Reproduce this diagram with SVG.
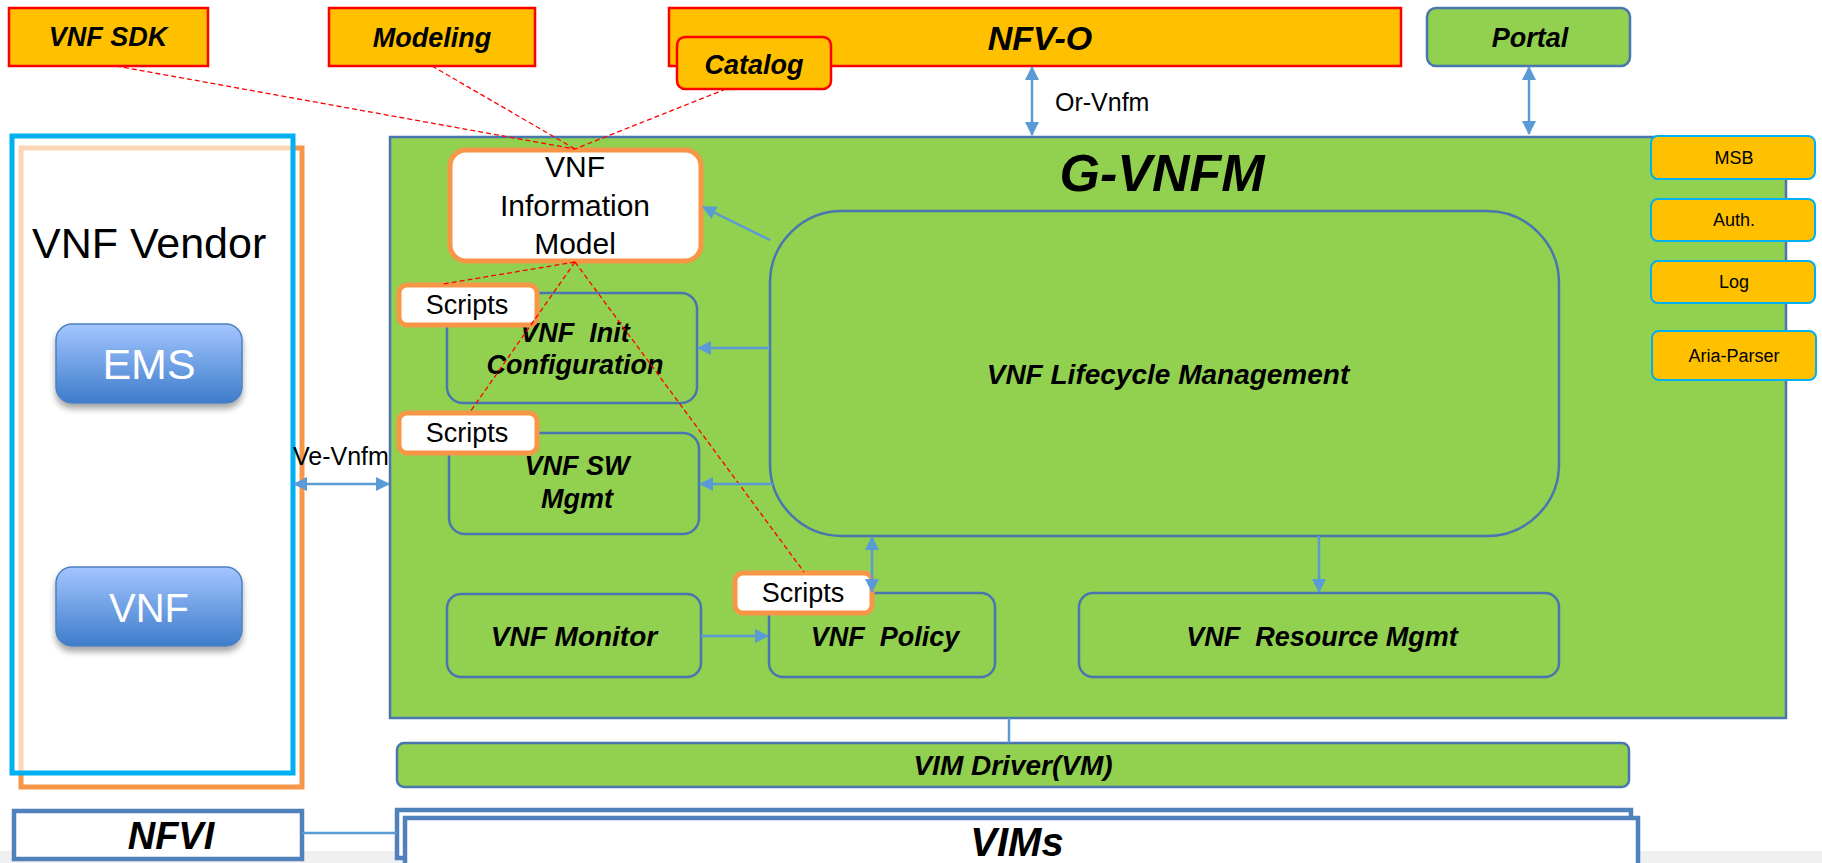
<svg xmlns="http://www.w3.org/2000/svg" width="1822" height="863" viewBox="0 0 1822 863">
<style>
.org{fill:#FFC000;stroke:#FF0000;stroke-width:2.5}
.grn{fill:#92D050;stroke:#4A76B0;stroke-width:2.5}
.sub{fill:none;stroke:#4A76B0;stroke-width:2.5}
.svc{fill:#FFC000;stroke:#00B0F0;stroke-width:2}
.scr{fill:#FFFFFF;stroke:#F79646;stroke-width:5}
.bi{font-family:"Liberation Sans",Arial,sans-serif;font-weight:bold;font-style:italic;fill:#000;text-anchor:middle}
.rg{font-family:"Liberation Sans",Arial,sans-serif;fill:#000;text-anchor:middle}
.wt{font-family:"Liberation Sans",Arial,sans-serif;fill:#FFFFFF;text-anchor:middle}
.arr{stroke:#5B9BD5;stroke-width:2.5;fill:none}
.dash{stroke:#FF0000;stroke-width:1.3;stroke-dasharray:5,3;fill:none}
.nf{fill:#FFFFFF;stroke:#4F81BD;stroke-width:4.5}
</style>
<defs>
<marker id="ah" markerUnits="userSpaceOnUse" markerWidth="14" markerHeight="14" refX="13" refY="7" orient="auto-start-reverse">
<path d="M0,0 L14,7 L0,14 z" fill="#5B9BD5"/>
</marker>
<linearGradient id="btn" x1="0" y1="0" x2="0" y2="1">
<stop offset="0" stop-color="#A3C6FF"/>
<stop offset="1" stop-color="#3E7CCB"/>
</linearGradient>
<filter id="sh" x="-10%" y="-10%" width="120%" height="140%">
<feDropShadow dx="0" dy="5" stdDeviation="3" flood-color="#000" flood-opacity="0.35"/>
</filter>
</defs>

<rect x="0" y="851" width="1822" height="12" fill="#F0F0F0"/>

<g id="vendor">
<rect x="21" y="148" width="281" height="639" fill="#FFFFFF" stroke="#F79646" stroke-width="5"/>
<rect x="12" y="136" width="281" height="637" fill="#FFFFFF" fill-opacity="0.6" stroke="#00B0F0" stroke-width="5"/>
<text x="32" y="258" font-family="Liberation Sans,Arial,sans-serif" font-size="43" fill="#000">VNF Vendor</text>
</g>
<g id="ems">
<rect x="56" y="324" width="186" height="79" rx="16" fill="url(#btn)" stroke="#4E80C0" stroke-width="1.5" filter="url(#sh)"/>
<text class="wt" x="149" y="379" font-size="43">EMS</text>
</g>
<g id="vnf">
<rect x="56" y="567" width="186" height="79" rx="16" fill="url(#btn)" stroke="#4E80C0" stroke-width="1.5" filter="url(#sh)"/>
<text class="wt" x="149" y="622" font-size="40">VNF</text>
</g>

<g id="vnfsdk">
<rect class="org" x="9" y="8" width="199" height="58"/>
<text class="bi" x="108" y="46" font-size="27">VNF SDK</text>
</g>
<g id="modeling">
<rect class="org" x="329" y="8" width="206" height="58"/>
<text class="bi" x="432" y="47" font-size="27">Modeling</text>
</g>
<g id="nfvo">
<rect class="org" x="669" y="8" width="732" height="58"/>
<text class="bi" x="1040" y="50" font-size="34">NFV-O</text>
</g>
<g id="catalog">
<rect class="org" x="677" y="37" width="154" height="52" rx="8"/>
<text class="bi" x="754" y="74" font-size="27">Catalog</text>
</g>
<g id="portal">
<rect class="grn" x="1427" y="8" width="203" height="58" rx="9"/>
<text class="bi" x="1530" y="47" font-size="27">Portal</text>
</g>

<g id="gvnfm">
<rect class="grn" x="390" y="137" width="1396" height="581"/>
<text class="bi" x="1162" y="191" font-size="52">G-VNFM</text>
</g>

<g id="msb"><rect class="svc" x="1651" y="136" width="164" height="43" rx="7"/><text class="rg" x="1734" y="164" font-size="18">MSB</text></g>
<g id="auth"><rect class="svc" x="1651" y="199" width="164" height="42" rx="7"/><text class="rg" x="1734" y="226" font-size="18">Auth.</text></g>
<g id="log"><rect class="svc" x="1651" y="261" width="164" height="42" rx="7"/><text class="rg" x="1734" y="288" font-size="18">Log</text></g>
<g id="aria"><rect class="svc" x="1652" y="331" width="164" height="49" rx="7"/><text class="rg" x="1734" y="362" font-size="18">Aria-Parser</text></g>

<g id="infomodel">
<rect class="scr" x="450" y="150" width="251" height="111" rx="16"/>
<text class="rg" x="575" y="177" font-size="30">VNF</text>
<text class="rg" x="575" y="216" font-size="30">Information</text>
<text class="rg" x="575" y="254" font-size="30">Model</text>
</g>

<g id="initconfig">
<rect class="sub" x="447" y="293" width="250" height="110" rx="16"/>
<text class="bi" x="575" y="342" font-size="27" xml:space="preserve">VNF  Init</text>
<text class="bi" x="575" y="374" font-size="27">Configuration</text>
</g>
<g id="swmgmt">
<rect class="sub" x="449" y="433" width="250" height="101" rx="16"/>
<text class="bi" x="577" y="475" font-size="27">VNF SW</text>
<text class="bi" x="577" y="508" font-size="27">Mgmt</text>
</g>
<g id="lifecycle">
<rect class="sub" x="770" y="211" width="789" height="325" rx="72"/>
<text class="bi" x="1168" y="384" font-size="28">VNF Lifecycle Management</text>
</g>
<g id="monitor">
<rect class="sub" x="447" y="594" width="254" height="83" rx="14"/>
<text class="bi" x="574" y="646" font-size="28">VNF Monitor</text>
</g>
<g id="policy">
<rect class="sub" x="769" y="593" width="226" height="84" rx="14"/>
<text class="bi" x="885" y="646" font-size="27" xml:space="preserve">VNF  Policy</text>
</g>
<g id="resource">
<rect class="sub" x="1079" y="593" width="480" height="84" rx="14"/>
<text class="bi" x="1322" y="646" font-size="27" xml:space="preserve">VNF  Resource Mgmt</text>
</g>

<g id="scripts1"><rect class="scr" x="399" y="285" width="138" height="40" rx="8"/><text class="rg" x="467" y="314" font-size="27">Scripts</text></g>
<g id="scripts2"><rect class="scr" x="399" y="413" width="138" height="40" rx="8"/><text class="rg" x="467" y="442" font-size="27">Scripts</text></g>
<g id="scripts3"><rect class="scr" x="735" y="573" width="137" height="40" rx="8"/><text class="rg" x="803" y="602" font-size="27">Scripts</text></g>

<g id="vimdriver">
<rect class="grn" x="397" y="743" width="1232" height="44" rx="7"/>
<text class="bi" x="1013" y="775" font-size="28">VIM Driver(VM)</text>
</g>
<g id="nfvi">
<rect class="nf" x="14" y="811" width="288" height="48"/>
<text class="bi" x="171" y="849" font-size="38">NFVI</text>
</g>
<g id="vims">
<rect class="nf" x="397" y="810" width="1234" height="48"/>
<rect class="nf" x="405" y="818" width="1233" height="52"/>
<text class="bi" x="1017" y="856" font-size="40">VIMs</text>
</g>

<g id="connectors">
<line class="dash" x1="116" y1="66" x2="575" y2="149"/>
<line class="dash" x1="432" y1="66" x2="575" y2="149"/>
<line class="dash" x1="726" y1="89" x2="575" y2="149"/>
<line class="dash" x1="575" y1="262" x2="443" y2="284"/>
<line class="dash" x1="575" y1="262" x2="470" y2="412"/>
<line class="dash" x1="575" y1="262" x2="804" y2="572"/>
<line class="arr" x1="1032" y1="67" x2="1032" y2="135" marker-start="url(#ah)" marker-end="url(#ah)"/>
<text x="1055" y="111" font-family="Liberation Sans,Arial,sans-serif" font-size="25" fill="#000">Or-Vnfm</text>
<line class="arr" x1="1529" y1="67" x2="1529" y2="134" marker-start="url(#ah)" marker-end="url(#ah)"/>
<line class="arr" x1="294" y1="484" x2="389" y2="484" marker-start="url(#ah)" marker-end="url(#ah)"/>
<text x="293" y="465" font-family="Liberation Sans,Arial,sans-serif" font-size="25" fill="#000">Ve-Vnfm</text>
<line class="arr" x1="770" y1="240" x2="703" y2="207" marker-end="url(#ah)"/>
<line class="arr" x1="770" y1="348" x2="698" y2="348" marker-end="url(#ah)"/>
<line class="arr" x1="773" y1="484" x2="700" y2="484" marker-end="url(#ah)"/>
<line class="arr" x1="872" y1="537" x2="872" y2="592" marker-start="url(#ah)" marker-end="url(#ah)"/>
<line class="arr" x1="1319" y1="536" x2="1319" y2="592" stroke-width="1.8" marker-end="url(#ah)"/>
<line class="arr" x1="701" y1="636" x2="768" y2="636" marker-end="url(#ah)"/>
<line class="arr" x1="1009" y1="718" x2="1009" y2="743" stroke-width="1.5"/>
<line class="arr" x1="302" y1="833" x2="397" y2="833" stroke-width="1.5"/>
</g>
</svg>
